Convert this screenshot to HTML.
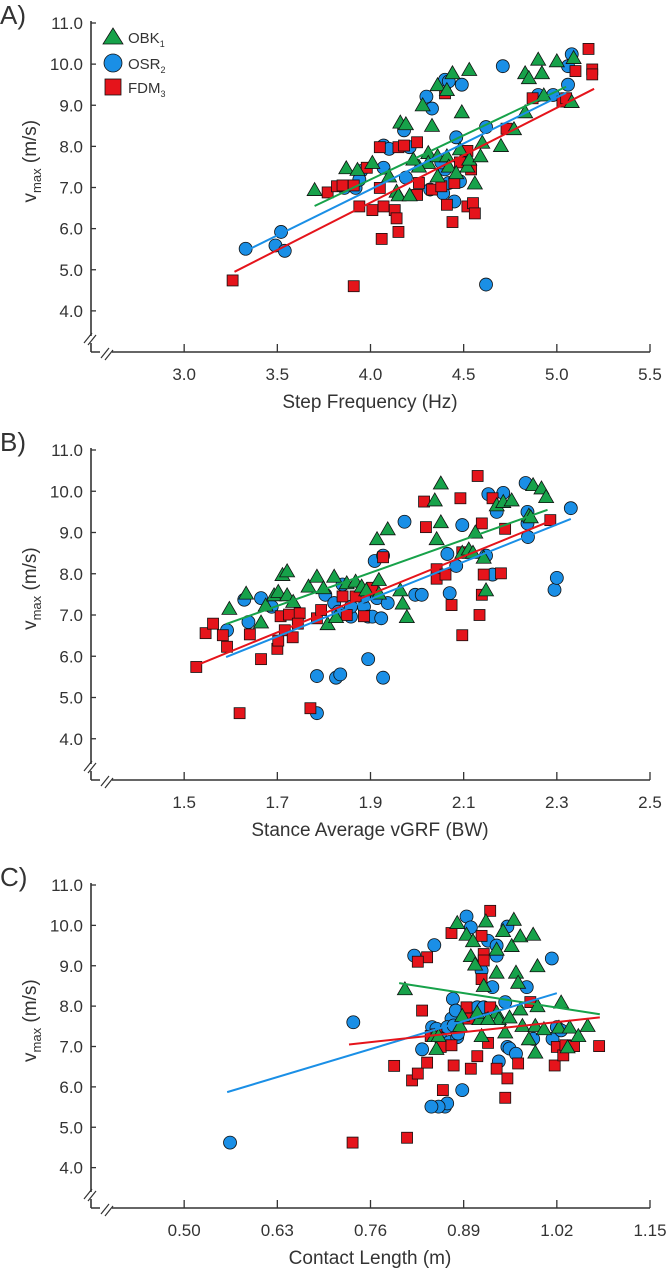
<!DOCTYPE html>
<html><head><meta charset="utf-8">
<style>
html,body{margin:0;padding:0;background:#fff;}
svg text{font-family:"Liberation Sans",Arial,sans-serif;fill:#333;}
</style></head>
<body>
<svg id="chart" width="666" height="1271" viewBox="0 0 666 1271" xmlns="http://www.w3.org/2000/svg"></svg>
<script>
// ---------- DATA ----------
const yTicks = [4.0,5.0,6.0,7.0,8.0,9.0,10.0,11.0];
const xTicksA = [3.0,3.5,4.0,4.5,5.0,5.5];
const xTicksB = [1.5,1.7,1.9,2.1,2.3,2.5];
const xTicksC = [0.50,0.63,0.76,0.89,1.02,1.15];
const xLabelsC = ["0.50","0.63","0.76","0.89","1.02","1.15"];

const obkA = [[3.70,6.95],[3.87,7.48],[3.93,7.44],[4.01,7.61],[4.10,7.28],[4.14,6.91],[4.15,6.82],[4.21,6.82],[4.16,8.59],[4.19,8.55],[4.28,9.01],[4.33,8.51],[4.31,7.85],[4.31,7.61],[4.36,7.77],[4.36,7.28],[4.41,7.77],[4.42,7.52],[4.46,7.36],[4.48,7.94],[4.49,8.84],[4.52,7.52],[4.53,7.69],[4.56,7.11],[4.59,7.77],[4.60,8.10],[4.36,9.50],[4.41,9.38],[4.44,9.79],[4.53,9.87],[4.70,8.02],[4.77,8.43],[4.83,8.84],[4.83,9.79],[4.85,9.67],[4.90,10.12],[4.92,9.79],[4.93,9.25],[5.00,10.08],[5.08,9.09],[5.09,10.16],[4.26,7.52],[4.23,7.69]];
const osrA = [[3.33,5.51],[3.52,5.92],[3.49,5.59],[3.54,5.46],[3.86,6.99],[3.92,6.99],[3.95,7.40],[3.94,7.19],[4.07,7.48],[4.07,8.02],[4.10,7.94],[4.18,8.39],[4.21,7.98],[4.19,7.24],[4.30,9.21],[4.33,8.92],[4.32,6.95],[4.39,6.86],[4.40,9.62],[4.42,9.58],[4.49,9.50],[4.42,7.11],[4.45,6.66],[4.48,7.15],[4.46,8.22],[4.62,8.47],[4.71,9.95],[4.90,9.25],[4.98,9.25],[5.06,9.50],[5.06,9.95],[5.08,10.24],[4.62,4.64],[4.40,7.44],[4.38,7.61],[4.51,7.69]];
const fdmA = [[3.26,4.74],[3.77,6.88],[3.82,7.03],[3.85,7.05],[3.91,7.05],[3.94,6.54],[3.98,7.48],[4.01,6.45],[4.05,6.99],[4.05,7.98],[4.07,6.54],[4.06,5.75],[4.13,6.45],[4.14,6.25],[4.15,5.92],[4.15,7.98],[4.18,8.02],[4.25,8.10],[4.26,7.11],[4.25,6.82],[4.33,6.95],[4.40,9.29],[4.41,6.58],[4.44,6.16],[4.48,7.61],[4.52,6.54],[4.52,7.89],[4.54,7.44],[4.55,6.62],[4.56,6.37],[4.73,8.43],[4.87,9.17],[5.03,9.09],[5.05,9.17],[5.10,9.83],[5.17,10.37],[5.19,9.87],[5.19,9.75],[3.91,4.60],[4.45,7.11],[4.38,7.03]];

const obkB = [[1.597,7.16],[1.633,7.53],[1.665,6.83],[1.675,7.24],[1.693,7.49],[1.702,7.57],[1.711,7.98],[1.721,8.07],[1.721,7.49],[1.734,7.33],[1.767,7.70],[1.785,7.94],[1.799,7.66],[1.808,6.79],[1.822,7.94],[1.826,6.96],[1.849,7.78],[1.868,7.82],[1.881,7.70],[1.891,7.61],[1.914,8.85],[1.918,7.86],[1.937,9.09],[1.964,7.61],[1.969,7.29],[1.978,6.96],[2.038,9.79],[2.042,8.85],[2.051,9.26],[2.051,10.20],[2.097,8.52],[2.111,8.60],[2.120,8.52],[2.125,9.01],[2.143,8.40],[2.148,7.61],[2.171,9.67],[2.185,9.75],[2.203,9.79],[2.240,9.42],[2.249,10.16],[2.267,10.08],[2.277,9.87],[2.244,9.38],[1.918,7.53]];
const osrB = [[1.592,6.63],[1.629,7.37],[1.638,6.83],[1.665,7.41],[1.688,7.20],[1.785,5.52],[1.803,7.49],[1.822,7.29],[1.826,5.48],[1.835,5.56],[1.840,7.74],[1.831,7.08],[1.858,6.96],[1.858,7.20],[1.886,7.20],[1.895,6.96],[1.904,6.96],[1.909,8.31],[1.914,7.41],[1.923,6.92],[1.927,8.44],[1.937,7.29],[1.973,9.26],[1.996,7.49],[2.010,7.49],[2.047,7.98],[2.065,8.48],[2.070,7.53],[2.084,8.19],[2.097,9.18],[2.148,8.44],[2.153,9.93],[2.162,7.98],[2.171,9.50],[2.185,9.96],[2.233,10.20],[2.237,9.50],[2.238,8.89],[2.237,9.22],[2.295,7.61],[2.300,7.90],[2.330,9.59],[1.895,5.93],[1.927,5.48],[1.785,4.62],[1.886,7.45]];
const fdmB = [[1.526,5.74],[1.546,6.56],[1.562,6.79],[1.583,6.51],[1.592,6.23],[1.641,6.53],[1.665,5.93],[1.700,6.18],[1.702,6.38],[1.707,6.97],[1.716,6.63],[1.725,7.01],[1.733,6.46],[1.748,7.04],[1.744,6.79],[1.785,6.92],[1.794,7.12],[1.840,7.45],[1.849,7.00],[1.886,6.97],[1.904,7.66],[1.927,8.40],[2.015,9.75],[2.019,9.13],[2.042,8.11],[2.042,7.88],[2.061,7.98],[2.074,7.24],[2.093,9.83],[2.097,6.51],[2.097,8.52],[2.134,7.00],[2.139,9.22],[2.139,7.49],[2.143,7.98],[2.130,10.37],[2.162,9.83],[2.189,9.09],[2.180,8.01],[2.286,9.30],[1.619,4.62],[1.771,4.74],[1.868,7.45]];

const obkC = [[0.808,8.43],[0.852,6.95],[0.849,7.27],[0.881,10.07],[0.885,7.52],[0.888,7.77],[0.894,9.78],[0.900,9.25],[0.903,9.62],[0.906,9.04],[0.912,7.69],[0.915,7.27],[0.918,8.51],[0.921,10.11],[0.936,8.84],[0.936,9.41],[0.936,7.85],[0.939,7.69],[0.945,9.87],[0.948,7.36],[0.954,7.73],[0.957,9.50],[0.960,10.15],[0.963,8.84],[0.966,8.59],[0.969,7.93],[0.969,9.74],[0.972,7.52],[0.981,7.19],[0.987,9.78],[0.990,7.52],[0.990,6.86],[0.993,8.01],[0.993,9.00],[1.002,7.44],[1.026,8.10],[1.023,7.48],[1.035,6.99],[1.038,7.48],[1.050,7.27],[1.063,7.52],[0.855,7.27],[0.909,7.85],[0.924,7.69]];
const osrC = [[0.564,4.62],[0.736,7.60],[0.821,9.25],[0.832,6.93],[0.849,9.51],[0.846,7.48],[0.852,7.44],[0.858,7.19],[0.864,5.51],[0.867,5.59],[0.855,5.51],[0.845,5.51],[0.870,7.11],[0.873,7.69],[0.875,8.18],[0.879,7.89],[0.881,7.23],[0.882,7.32],[0.888,5.92],[0.894,10.22],[0.900,9.95],[0.909,7.97],[0.915,8.88],[0.918,7.97],[0.924,9.62],[0.930,8.47],[0.936,9.50],[0.936,9.25],[0.939,6.63],[0.948,8.10],[0.951,9.97],[0.951,6.99],[0.954,6.95],[0.963,6.82],[0.978,8.47],[0.987,7.19],[1.013,9.18],[1.014,7.19],[1.020,7.48],[1.026,7.40],[0.867,7.48],[0.876,7.52]];
const fdmC = [[0.735,4.62],[0.811,4.74],[0.793,6.52],[0.818,6.16],[0.826,6.33],[0.832,7.89],[0.839,6.60],[0.839,9.21],[0.826,9.10],[0.844,7.26],[0.858,6.99],[0.861,5.92],[0.873,7.03],[0.876,6.53],[0.873,9.81],[0.894,7.97],[0.897,7.69],[0.900,6.45],[0.909,6.76],[0.915,8.67],[0.915,9.74],[0.918,9.29],[0.918,9.13],[0.924,7.09],[0.927,10.36],[0.927,7.97],[0.936,6.45],[0.951,6.21],[0.948,5.73],[0.966,6.58],[0.983,8.10],[1.017,6.53],[1.020,6.99],[1.029,6.78],[1.032,7.03],[1.044,7.01],[1.079,7.01],[0.852,7.30]];

const fitA = {obk:[[3.70,6.55],[5.05,9.45]], osr:[[3.35,5.50],[5.05,9.30]], fdm:[[3.27,4.95],[5.20,9.40]]};
const fitB = {obk:[[1.59,6.78],[2.28,9.55]], osr:[[1.59,5.98],[2.33,9.33]], fdm:[[1.52,5.75],[2.28,9.25]]};
const fitC = {obk:[[0.80,8.57],[1.08,7.80]], osr:[[0.56,5.87],[1.02,8.32]], fdm:[[0.73,7.05],[1.08,7.72]]};

// ---------- DRAW ----------
const NS = "http://www.w3.org/2000/svg";
const svg = document.getElementById('chart');
const GREEN="#17a24a", BLUE="#1a8fe6", RED="#e5141b", AX="#333";
function mk(tag, attrs, parent){
  const e=document.createElementNS(NS,tag);
  for(const k in attrs) e.setAttribute(k,attrs[k]);
  (parent||svg).appendChild(e); return e;
}
function marker(g,kind,cx,cy){
  let e;
  if(kind==='obk'){
    e=mk('polygon',{points:`${cx},${cy-7} ${cx-7.5},${cy+6} ${cx+7.5},${cy+6}`,fill:GREEN,stroke:'#111','stroke-width':0.8},g);
  } else if(kind==='osr'){
    e=mk('circle',{cx:cx,cy:cy,r:6.5,fill:BLUE,stroke:'#111','stroke-width':0.8},g);
  } else {
    e=mk('rect',{x:cx-5.5,y:cy-5.5,width:11,height:11,fill:RED,stroke:'#111','stroke-width':0.8},g);
  }
  return e;
}
function panel(id,label,top,axisY,xmin,xmax,xt,xl,title,obk,osr,fdm,fit,legend){
  const X0=91,X1=650,ymin=3,ymax=11;
  const sx=v=>X0+(v-xmin)/(xmax-xmin)*(X1-X0);
  const sy=v=>axisY-(v-ymin)/(ymax-ymin)*(axisY-top);
  const g=mk('g',{});
  
  
  const pl=mk('text',{x:0,y:top+1,'font-size':26},g);
  pl.textContent=label;
  
  
  const ya=mk('line',{x1:X0,y1:top-2,x2:X0,y2:axisY-16,stroke:AX,'stroke-width':1.6},g);
  
  
  mk('line',{x1:X0,y1:axisY-9,x2:X0,y2:axisY,stroke:AX,'stroke-width':1.6},g);
  const xa=mk('line',{x1:X0,y1:axisY,x2:X1,y2:axisY,stroke:AX,'stroke-width':1.6},g);
  
  
  mk('rect',{x:100,y:axisY-3,width:12,height:6,fill:'#fff'},g);
  mk('line',{x1:84,y1:axisY-9,x2:92,y2:axisY-19,stroke:AX,'stroke-width':1.2},g);
  mk('line',{x1:88,y1:axisY-7,x2:96,y2:axisY-17,stroke:AX,'stroke-width':1.2},g);
  mk('line',{x1:101,y1:axisY+6,x2:109,y2:axisY-4,stroke:AX,'stroke-width':1.2},g);
  mk('line',{x1:105,y1:axisY+8,x2:113,y2:axisY-2,stroke:AX,'stroke-width':1.2},g);
  yTicks.forEach(v=>{
    const y=sy(v);
    mk('line',{x1:X0,y1:y,x2:X0+5,y2:y,stroke:AX,'stroke-width':1.3},g);
    const t=mk('text',{x:83,y:y+6,'font-size':17,'text-anchor':'end'},g);
    t.textContent=v.toFixed(1);
    
    
  });
  xt.forEach((v,i)=>{
    const x=sx(v);
    mk('line',{x1:x,y1:axisY,x2:x,y2:axisY-8,stroke:AX,'stroke-width':1.3},g);
    const t=mk('text',{x:x,y:axisY+28,'font-size':17,'text-anchor':'middle'},g);
    t.textContent=xl?xl[i]:v.toFixed(1);
    
    
  });
  const xt2=mk('text',{x:370,y:axisY+56,'font-size':19,'text-anchor':'middle'},g);
  xt2.textContent=title;
  
  
  const cy=top+(axisY-top)*0.42;
  const yt=mk('text',{x:0,y:0,'font-size':19,'text-anchor':'middle',transform:`translate(36,${cy}) rotate(-90)`},g);
  yt.innerHTML='v<tspan font-size="13" dy="5">max</tspan><tspan dy="-5"> (m/s)</tspan>';
  
  
  const order=[['osr',osr],['fdm',fdm],['obk',obk]];
  order.forEach(([k,arr])=>{
    const sg=mk('g',{},g);
    
    
    arr.forEach(p=>{
      const m=marker(sg,k,sx(p[0]),sy(p[1]));
      
      
    });
  });
  [['obk',GREEN],['osr',BLUE],['fdm',RED]].forEach(([k,c])=>{
    const f=fit[k];
    const l=mk('line',{x1:sx(f[0][0]),y1:sy(f[0][1]),x2:sx(f[1][0]),y2:sy(f[1][1]),stroke:c,'stroke-width':2},g);
    
    
  });
  if(legend){
    const lg=mk('g',{},g);
    
    
    const items=[['obk','OBK','1',37],['osr','OSR','2',63],['fdm','FDM','3',87]];
    items.forEach(([k,n,s,y])=>{
      const eg=mk('g',{},lg);
      
      
      if(k==='obk') mk('polygon',{points:`113,${y-9} 103,${y+7} 123,${y+7}`,fill:GREEN,stroke:'#111','stroke-width':0.8},eg);
      else if(k==='osr') mk('ellipse',{cx:113,cy:y,rx:9,ry:9,fill:BLUE,stroke:'#111','stroke-width':0.8},eg);
      else mk('rect',{x:105,y:y-8,width:16,height:16,fill:RED,stroke:'#111','stroke-width':0.8},eg);
      const t=mk('text',{x:128,y:y+6,'font-size':15},eg);
      t.innerHTML=n+'<tspan font-size="9" dy="4">'+s+'</tspan>';
    });
  }
}
panel('a','A)',23,352,2.5,5.5,xTicksA,null,'Step Frequency (Hz)',obkA,osrA,fdmA,fitA,true);
panel('b','B)',450,780,1.3,2.5,xTicksB,null,'Stance Average vGRF (BW)',obkB,osrB,fdmB,fitB,false);
panel('c','C)',885,1208,0.37,1.15,xTicksC,xLabelsC,'Contact Length (m)',obkC,osrC,fdmC,fitC,false);
</script>
</body></html>
